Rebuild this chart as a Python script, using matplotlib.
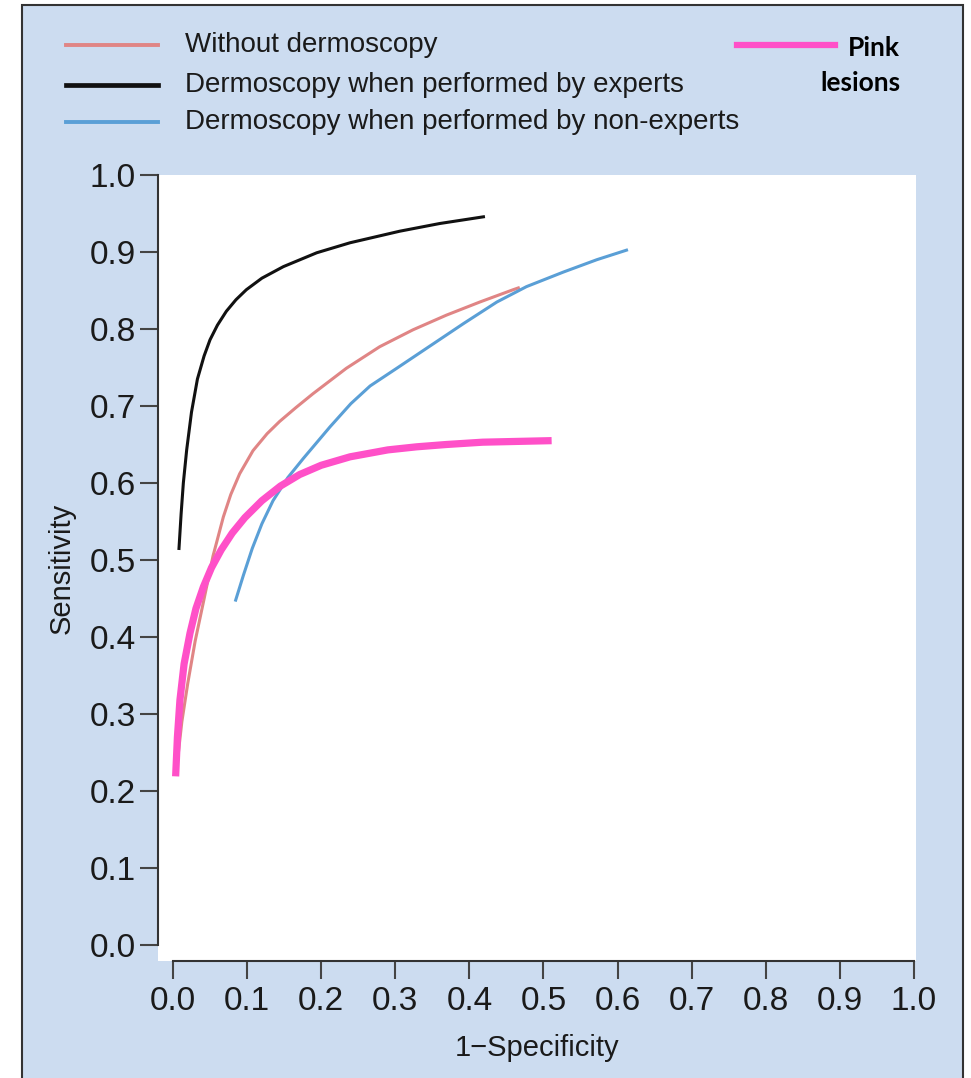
import matplotlib.pyplot as plt
from matplotlib.lines import Line2D
from matplotlib.patches import Rectangle

# ROC curves: (1 - specificity, sensitivity)
without_x = [0.005, 0.012, 0.02, 0.03, 0.041, 0.054, 0.068, 0.078, 0.09, 0.108, 0.127,
             0.144, 0.166, 0.189, 0.234, 0.279, 0.324, 0.369, 0.414, 0.459, 0.468]
without_y = [0.23, 0.29, 0.34, 0.395, 0.445, 0.505, 0.556, 0.585, 0.612, 0.642, 0.664,
             0.680, 0.698, 0.716, 0.749, 0.777, 0.799, 0.818, 0.835, 0.851, 0.854]

experts_x = [0.008, 0.011, 0.014, 0.0185, 0.025, 0.033, 0.042, 0.05, 0.06, 0.072, 0.085,
             0.099, 0.12, 0.149, 0.194, 0.239, 0.306, 0.36, 0.421]
experts_y = [0.513, 0.56, 0.60, 0.643, 0.692, 0.735, 0.765, 0.786, 0.805, 0.823, 0.838,
             0.851, 0.866, 0.881, 0.899, 0.912, 0.927, 0.937, 0.946]

nonexp_x = [0.084, 0.095, 0.107, 0.12, 0.135, 0.155, 0.176, 0.212, 0.24, 0.266, 0.302,
            0.347, 0.392, 0.437, 0.477, 0.527, 0.572, 0.614]
nonexp_y = [0.446, 0.48, 0.515, 0.547, 0.577, 0.607, 0.632, 0.673, 0.703, 0.726, 0.749,
            0.778, 0.807, 0.835, 0.855, 0.874, 0.890, 0.903]

pink_x = [0.0036, 0.006, 0.0094, 0.015, 0.023, 0.031, 0.041, 0.052, 0.065, 0.08, 0.097,
          0.12, 0.145, 0.171, 0.2, 0.239, 0.29, 0.329, 0.369, 0.418, 0.511]
pink_y = [0.219, 0.27, 0.318, 0.365, 0.405, 0.437, 0.465, 0.49, 0.513, 0.535, 0.555,
          0.577, 0.596, 0.611, 0.623, 0.634, 0.643, 0.647, 0.650, 0.653, 0.655]

ticks = [0.0, 0.1, 0.2, 0.3, 0.4, 0.5, 0.6, 0.7, 0.8, 0.9, 1.0]
tick_labels = ['%.1f' % t for t in ticks]

labels = ['Without dermoscopy', 'Dermoscopy when performed by experts',
          'Dermoscopy when performed by non-experts']

red = '#e08585'
blue = '#5a9fd6'
pink = '#ff50c8'
bg = '#ccdcf0'

plt.rcParams['font.family'] = ['Liberation Sans', 'DejaVu Sans']

W, H = 971, 1078
fig = plt.figure(figsize=(W / 100, H / 100), dpi=100, facecolor='white')

# outer blue panel with frame
fig.add_artist(Rectangle((22 / W, -0.02), (963 - 22) / W, 1 - 5 / H + 0.02,
                         transform=fig.transFigure, facecolor=bg,
                         edgecolor='#333333', linewidth=1.5, zorder=0))

ax = fig.add_axes([158 / W, 1 - 961 / H, (916 - 158) / W, (961 - 175) / H])
ax.set_facecolor('white')

ax.plot(without_x, without_y, color=red, lw=2.2, solid_capstyle='butt')
ax.plot(nonexp_x, nonexp_y, color=blue, lw=2.2, solid_capstyle='butt')
ax.plot(experts_x, experts_y, color='#111111', lw=2.2, solid_capstyle='butt')
ax.plot(pink_x, pink_y, color=pink, lw=5.2, solid_capstyle='butt')

ax.set_xlim(-0.0202, 1.0027)
ax.set_ylim(-0.0208, 1.0)

for s in ['top', 'right']:
    ax.spines[s].set_visible(False)
ax.spines['left'].set_bounds(0, 1)
ax.spines['bottom'].set_bounds(0, 1)
for s in ['left', 'bottom']:
    ax.spines[s].set_color('#333333')
    ax.spines[s].set_linewidth(1.5)

ax.set_xticks(ticks)
ax.set_xticklabels(tick_labels)
ax.set_yticks(ticks)
ax.set_yticklabels(tick_labels)
ax.tick_params(axis='both', direction='out', length=13, width=1.5, color='#444444',
               labelsize=24, labelcolor='#1a1a1a')
ax.tick_params(axis='x', pad=5)
ax.tick_params(axis='y', pad=3)

ax.set_xlabel('1\u2212Specificity', fontsize=21, color='#1a1a1a', labelpad=12)
ax.set_ylabel('Sensitivity', fontsize=21, color='#1a1a1a', labelpad=10)

# legend drawn by hand to follow the original layout
rows = [(45, red, 2.8), (85, '#111111', 3.4), (122, blue, 2.8)]
for (y, c, w), lab in zip(rows, labels):
    fig.add_artist(Line2D([66 / W, 158 / W], [1 - y / H, 1 - y / H], color=c, lw=w,
                          transform=fig.transFigure))
    fig.text(185 / W, 1 - y / H, lab, fontsize=20, color='#1a1a1a', va='center',
             ha='left')

fig.add_artist(Line2D([737 / W, 835 / W], [1 - 45 / H, 1 - 45 / H], color=pink, lw=4.5,
                      transform=fig.transFigure))
fig.text(900 / W, 1 - 48 / H, 'Pink', fontsize=19, fontweight='bold', family='Lato',
         ha='right', va='center', color='black')
fig.text(900 / W, 1 - 83 / H, 'lesions', fontsize=19, fontweight='bold', family='Lato',
         ha='right', va='center', color='black')

fig.savefig('out.png', dpi=100, facecolor='white')
